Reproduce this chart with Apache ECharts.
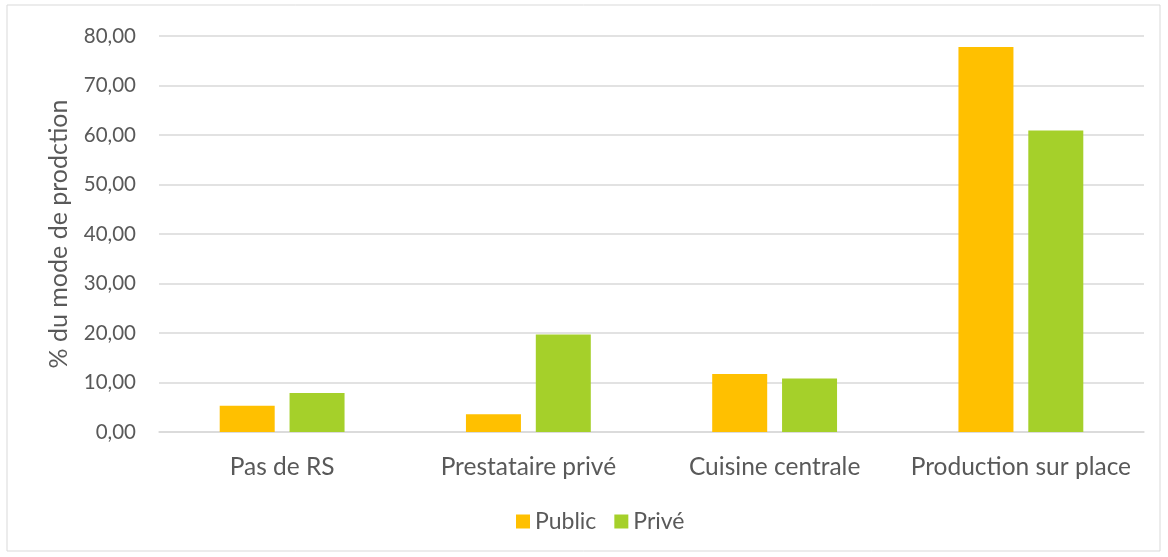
<!DOCTYPE html>
<html><head><meta charset="utf-8">
<script src="https://cdn.jsdelivr.net/npm/echarts@6/dist/echarts.min.js"></script>
<style>html,body{margin:0;padding:0;background:#fff}#c{width:1168px;height:557px}</style>
</head><body><div id="c"></div>
<script>
const categories = ["Pas de RS", "Prestataire privé", "Cuisine centrale", "Production sur place"];
const publicValues = [5.3, 3.6, 11.7, 77.8];
const priveValues = [7.9, 19.7, 10.8, 60.9];
const seriesNames = ["Public", "Privé"];
const yTicks = { min: 0, max: 80, interval: 10 };

const FONT = "Lato, 'Open Sans', sans-serif";
const chart = echarts.init(document.getElementById('c'), null, {renderer: 'canvas'});
chart.setOption({
  animation: false,
  backgroundColor: '#fff',
  graphic: [{type: 'rect', shape: {x: 7, y: 5, width: 1153, height: 546}, style: {fill: 'none', stroke: '#d9d9d9', lineWidth: 1}}],
  grid: {left: 159, right: 24, top: 36, bottom: 125},
  legend: {
    bottom: 19, left: 511, itemWidth: 14, itemHeight: 14, itemGap: 18,
    icon: 'rect',
    textStyle: {color: '#595959', fontSize: 23, fontFamily: FONT},
    data: seriesNames
  },
  xAxis: {
    type: 'category', data: categories,
    axisLine: {lineStyle: {color: '#d9d9d9', width: 1.5}},
    axisTick: {show: false},
    axisLabel: {color: '#595959', fontSize: 24.5, fontFamily: FONT, margin: 23, interval: 0, hideOverlap: false}
  },
  yAxis: {
    type: 'value', min: yTicks.min, max: yTicks.max, interval: yTicks.interval,
    name: '% du mode de prodction', nameLocation: 'middle', nameGap: 88,
    nameTextStyle: {color: '#595959', fontSize: 25, fontFamily: FONT},
    axisLine: {show: false}, axisTick: {show: false},
    splitLine: {lineStyle: {color: '#d9d9d9', width: 1.5}},
    axisLabel: {color: '#595959', fontSize: 20.5, fontFamily: FONT, margin: 23,
      formatter: v => v.toFixed(2).replace('.', ',')}
  },
  series: [
    {name: seriesNames[0], type: 'bar', data: publicValues, barWidth: 55, barGap: '27%', itemStyle: {color: '#ffc000'}},
    {name: seriesNames[1], type: 'bar', data: priveValues, barWidth: 55, barGap: '27%', itemStyle: {color: '#a5d02a'}}
  ]
});
</script></body></html>
